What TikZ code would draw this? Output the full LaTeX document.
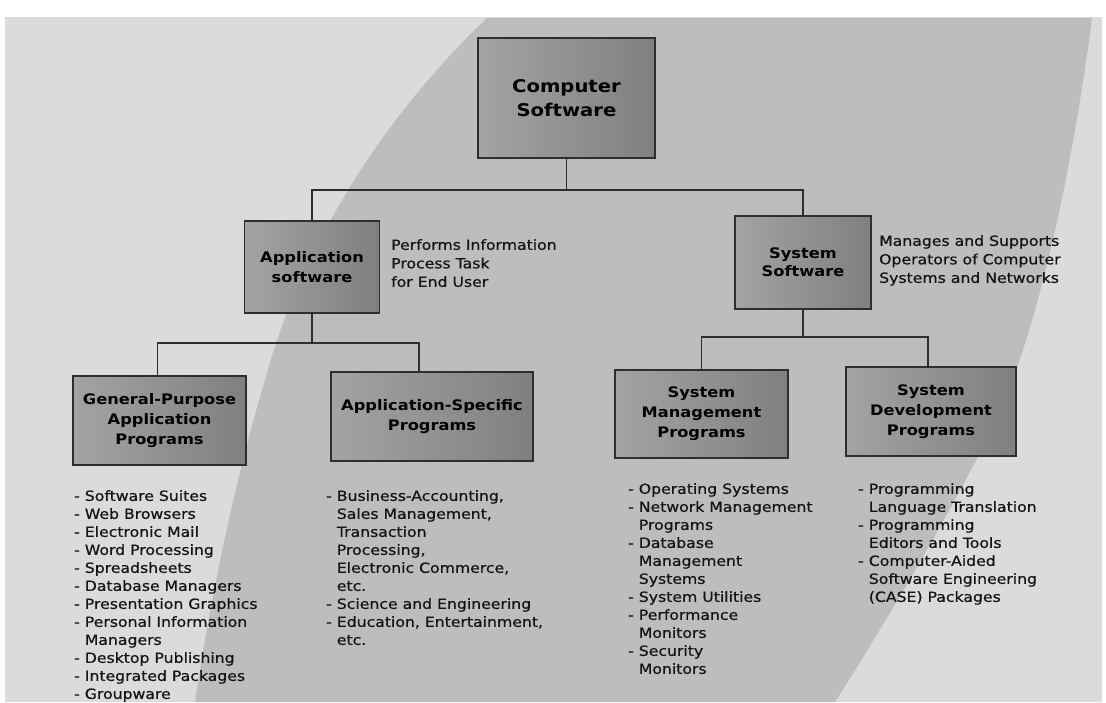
\documentclass[tikz,border=0pt]{standalone}
\usepackage{fontspec}
\setmainfont{DejaVu Sans}[FakeStretch=1.12]
\newfontfamily\listfont{DejaVu Sans}[FakeStretch=1.12, FakeBold=0.6]
\usetikzlibrary{calc}

\definecolor{paper}{gray}{0.86}
\definecolor{swoosh}{gray}{0.74}
\definecolor{boxlight}{gray}{0.64}
\definecolor{boxdark}{gray}{0.50}
\definecolor{ink}{gray}{0.08}
\definecolor{rule}{gray}{0.18}

\newcommand{\cont}{\hphantom{- }}

\tikzset{
  boxst/.style={draw=rule, line width=1.6pt, left color=boxlight, right color=boxdark,
    align=center, text=black, inner sep=0pt,
    font=\bfseries\fontsize{14.5}{20}\selectfont},
  listst/.style={align=left, text=ink, inner sep=0pt,
    font=\listfont\fontsize{14}{18}\selectfont},
  link/.style={draw=rule, line width=1.8pt},
}

\begin{document}
\begin{tikzpicture}[x=1pt,y=-1pt]
  \useasboundingbox (0,0) rectangle (1106,702);
  \fill[white] (0,0) rectangle (1106,702);

  % paper and the diagonal band behind the chart
  \fill[paper] (5,17) rectangle (1102,702);
  \fill[swoosh] (487,18) .. controls (380,120) and (300,250) .. (265,380)
      .. controls (235,480) and (210,600) .. (195,702) -- (835,702)
      .. controls (900,600) and (975,470) .. (1005,400)
      .. controls (1045,300) and (1075,150) .. (1092,18) -- cycle;

  % boxes
  \node[boxst, minimum width=177pt, minimum height=120pt,
        font=\bfseries\fontsize{17.5}{24}\selectfont] (cs) at (566.5,98) {Computer\\Software};
  \node[boxst, minimum width=135pt, minimum height=92pt] (app) at (312,267) {Application\\software};
  \node[boxst, minimum width=136pt, minimum height=93pt, font=\bfseries\fontsize{14.5}{18}\selectfont] (sys) at (803,262.5) {System\\Software};
  \node[boxst, minimum width=173pt, minimum height=89pt] (gp) at (159.5,420.5) {General-Purpose\\Application\\Programs};
  \node[boxst, minimum width=202pt, minimum height=89pt] (as) at (432,416.5) {Application-Specific\\Programs};
  \node[boxst, minimum width=173pt, minimum height=88pt] (sm) at (701.5,414) {System\\Management\\Programs};
  \node[boxst, minimum width=170pt, minimum height=89pt] (sd) at (931,411.5) {System\\Development\\Programs};

  % connectors
  \coordinate (bus1) at (0,190);
  \coordinate (bus2) at (0,343);
  \coordinate (bus3) at (0,337);
  \coordinate (gpin) at ([xshift=-2pt]gp.north);
  \coordinate (asin) at ([xshift=-13pt]as.north);
  \coordinate (sdin) at ([xshift=-3pt]sd.north);
  \draw[link] (cs.south) -- (cs.south |- bus1);
  \draw[link] (app.north) |- (bus1 -| sys.north) -- (sys.north);
  \draw[link] (app.south) -- (app.south |- bus2);
  \draw[link] (gpin) |- (bus2 -| asin) -- (asin);
  \draw[link] (sys.south) -- (sys.south |- bus3);
  \draw[link] (sm.north) |- (bus3 -| sdin) -- (sdin);

  % descriptions
  \node[listst, anchor=north west, font=\listfont\fontsize{14}{18.5}\selectfont] (appnote) at (391,239)
    {Performs Information\\Process Task\\for End User};
  \node[listst, anchor=north west, font=\listfont\fontsize{14}{18.5}\selectfont] (sysnote) at (879,235)
    {Manages and Supports\\Operators of Computer\\Systems and Networks};

  % lists
  \node[listst, anchor=north west] (gplist) at (74,490)
    {- Software Suites\\- Web Browsers\\- Electronic Mail\\- Word Processing\\- Spreadsheets\\
     - Database Managers\\- Presentation Graphics\\- Personal Information\\\cont Managers\\
     - Desktop Publishing\\- Integrated Packages\\- Groupware};
  \node[listst, anchor=north west] (aslist) at (326,490)
    {- Business-Accounting,\\\cont Sales Management,\\\cont Transaction\\\cont Processing,\\
     \cont Electronic Commerce,\\\cont etc.\\- Science and Engineering\\
     - Education, Entertainment,\\\cont etc.};
  \node[listst, anchor=north west] (smlist) at (628,483)
    {- Operating Systems\\- Network Management\\\cont Programs\\- Database\\\cont Management\\
     \cont Systems\\- System Utilities\\- Performance\\\cont Monitors\\- Security\\\cont Monitors};
  \node[listst, anchor=north west] (sdlist) at (858,483)
    {- Programming\\\cont Language Translation\\- Programming\\\cont Editors and Tools\\
     - Computer-Aided\\\cont Software Engineering\\\cont (CASE) Packages};
\end{tikzpicture}
\end{document}
